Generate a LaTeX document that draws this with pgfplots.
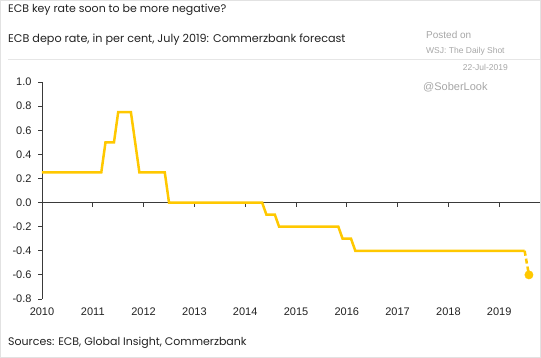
\documentclass[border=0pt]{standalone}
\usepackage{fontspec}
\setmainfont{Liberation Sans}
\newfontfamily\titlefont{Poppins}
\usepackage{pgfplots}
\pgfplotsset{compat=1.18}
\definecolor{ecbyellow}{HTML}{FFC800}
\definecolor{axisgray}{HTML}{3A3A3A}
\definecolor{framegray}{HTML}{E2E2E2}
\definecolor{sepgray}{HTML}{E6E6E6}
\definecolor{textdark}{HTML}{222222}
\definecolor{wmgray}{HTML}{A6A6A6}
\begin{document}
\begin{tikzpicture}[x=1pt,y=1pt]
\useasboundingbox (0,0) rectangle (541,358);
\draw[framegray, line width=1pt] (0.5,0.5) rectangle (540.5,357.5);
\draw[sepgray, line width=1pt] (8,298) -- (540,298);
\node[anchor=base west, inner sep=0, text=textdark, font=\titlefont\fontsize{11}{13}\selectfont] at (8,345) {ECB key rate soon to be more negative?};
\node[anchor=base west, inner sep=0, text=textdark, font=\titlefont\fontsize{11.2}{13}\selectfont] at (8,315.5) {ECB depo rate, in per cent, July 2019: Commerzbank forecast};
\node[anchor=base west, inner sep=0, text=textdark, font=\titlefont\fontsize{11}{13}\selectfont] at (8,12.5) {Sources: ECB, Global Insight, Commerzbank};
\node[anchor=base west, inner sep=0, text=wmgray, font=\fontsize{10}{12}\selectfont] at (426,319) {Posted on};
\node[anchor=base west, inner sep=0, text=wmgray, font=\fontsize{8.5}{10}\selectfont] at (426,304) {WSJ: The Daily Shot};
\node[anchor=base east, inner sep=0, text=wmgray, font=\fontsize{8.5}{10}\selectfont] at (508,287) {22-Jul-2019};
\node[anchor=base west, inner sep=0, text=wmgray, font=\fontsize{11}{13}\selectfont] at (423,267) {@SoberLook};
\begin{axis}[
  at={(42pt,59pt)}, anchor=south west,
  scale only axis, width=498pt, height=217pt,
  xmin=2010, xmax=2019.803, ymin=-0.8, ymax=1.0,
  axis lines=left,
  axis line style={-, draw=axisgray, line width=0.8pt},
  x axis line style={draw=none},
  xtick={2010,2011,2012,2013,2014,2015,2016,2017,2018,2019},
  xticklabels={2010,2011,2012,2013,2014,2015,2016,2017,2018,2019},
  x tick style={draw=none},
  ytick={-0.8,-0.6,-0.4,-0.2,0,0.2,0.4,0.6,0.8,1.0},
  yticklabels={-0.8,-0.6,-0.4,-0.2,0.0,0.2,0.4,0.6,0.8,1.0},
  tick align=outside, major tick length=4pt,
  y tick style={draw=axisgray, line width=0.8pt},
  ticklabel style={font=\fontsize{11}{13}\selectfont, text=textdark},
  xticklabel style={anchor=base, yshift=-13pt},
  yticklabel style={xshift=-3pt},
  clip=false,
]
\draw[axisgray, line width=0.8pt] (axis cs:2010,0) -- (axis cs:2019.803,0);
\pgfplotsinvokeforeach{2011,2012,2013,2014,2015,2016,2017,2018,2019}{
  \draw[axisgray, line width=0.8pt] (axis cs:#1,0) -- ([yshift=-4pt]axis cs:#1,0);
}
\addplot[ecbyellow, line width=2.5pt, mark=none] coordinates {
(2010,0.25) (2011.167,0.25) (2011.25,0.5) (2011.417,0.5) (2011.5,0.75)
(2011.75,0.75) (2011.917,0.25) (2012.417,0.25) (2012.5,0) (2014.333,0)
(2014.417,-0.1) (2014.583,-0.1) (2014.667,-0.2) (2015.833,-0.2) (2015.917,-0.3)
(2016.083,-0.3) (2016.167,-0.4) (2019.5,-0.4)
};
\addplot[ecbyellow, line width=2.5pt, mark=none, dash pattern=on 5pt off 3pt] coordinates {
(2019.5,-0.4) (2019.585,-0.6)
};
\addplot[only marks, mark=*, mark size=4.2pt, mark options={draw=ecbyellow, fill=ecbyellow}] coordinates {
(2019.585,-0.6)
};
\end{axis}
\end{tikzpicture}
\end{document}
